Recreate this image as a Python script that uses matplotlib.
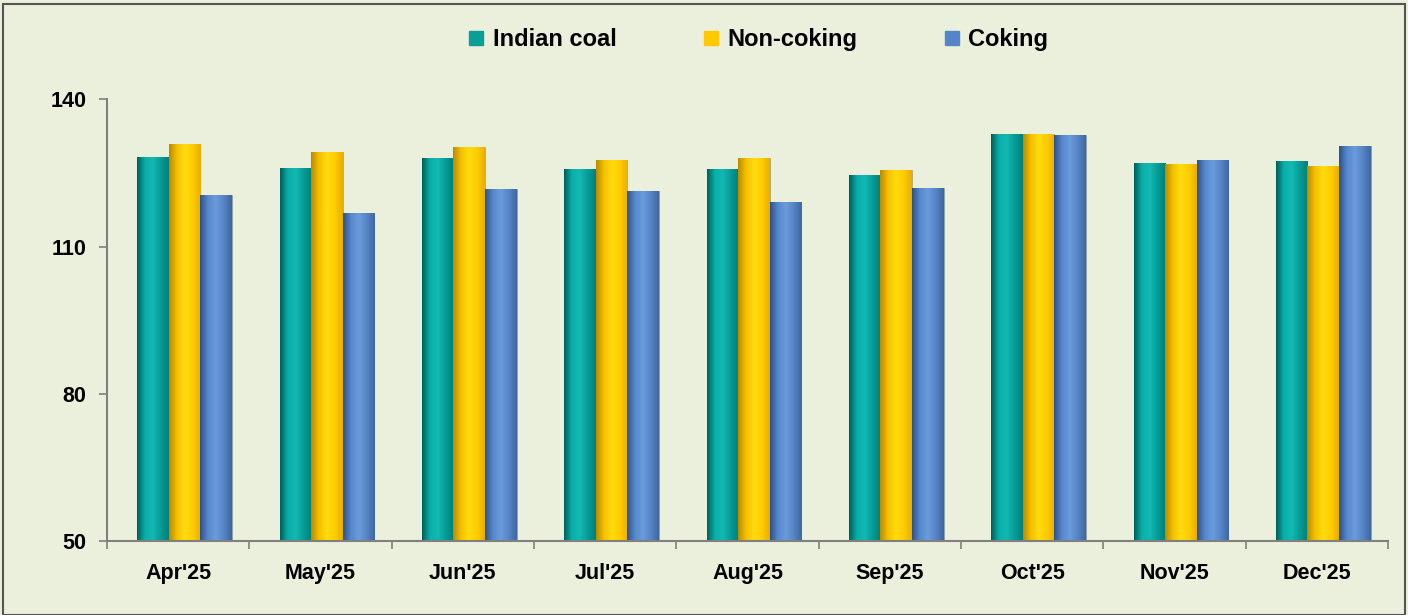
import numpy as np
import matplotlib
matplotlib.use("Agg")
import matplotlib.pyplot as plt
from matplotlib.colors import LinearSegmentedColormap
from matplotlib.lines import Line2D

# Monthly index values
months = ["Apr'25", "May'25", "Jun'25", "Jul'25", "Aug'25",
          "Sep'25", "Oct'25", "Nov'25", "Dec'25"]
indian_coal = [128.3, 126.0, 128.1, 125.9, 125.8, 124.6, 132.9, 127.1, 127.5]
non_coking = [131.0, 129.3, 130.3, 127.6, 128.1, 125.7, 132.9, 126.9, 126.4]
coking = [120.5, 116.8, 121.7, 121.4, 119.1, 121.9, 132.7, 127.7, 130.5]

series_names = ["Indian coal", "Non-coking", "Coking"]
series_values = [indian_coal, non_coking, coking]
base_colors = ["#0A9E99", "#FFC800", "#5585C8"]
# left edge -> highlight -> right edge of each cylinder-like bar
shade_stops = [
    ["#005E5A", "#0AAFA9", "#12B8B2", "#079A95", "#007F7A"],
    ["#B88A00", "#F5C000", "#FFDC10", "#FFCC00", "#E8AE00"],
    ["#2F5088", "#5688CC", "#6A9BDD", "#5684C5", "#3F66A0"],
]

plt.rcParams["font.family"] = ["Liberation Sans", "DejaVu Sans"]
plt.rcParams["font.weight"] = "bold"

bg = "#EBF0DC"
fig = plt.figure(figsize=(14.08, 6.15), dpi=100, facecolor=bg)
ax = fig.add_axes([0.076, 0.12, 0.9098, 0.7185])
ax.set_facecolor(bg)

x = np.arange(len(months))
width = 0.222
offset_shift = 0.045
grad = np.linspace(0, 1, 256).reshape(1, -1)

for k, (vals, col, stops) in enumerate(zip(series_values, base_colors, shade_stops)):
    pos = x + (k - 1) * width + offset_shift
    bars = ax.bar(pos, np.array(vals) - 50, width=width, bottom=50, color=col,
                  edgecolor="#8A8F80", linewidth=0.4, zorder=2)
    cmap = LinearSegmentedColormap.from_list(f"shade{k}", stops)
    for b in bars:
        x0, y0 = b.get_x(), b.get_y()
        im = ax.imshow(grad, cmap=cmap, aspect="auto", zorder=2.5,
                       extent=[x0, x0 + b.get_width(), y0, y0 + b.get_height()],
                       interpolation="bilinear")
        im.set_clip_path(b)

ax.set_xlim(-0.5, len(months) - 0.5)
ax.set_ylim(50, 140)
ax.set_yticks([50, 80, 110, 140])
ax.set_xticks(x)
ax.set_xticklabels(months)
ax.set_xticks(np.arange(-0.5, len(months)), minor=True)
ax.tick_params(axis="x", which="major", length=0, pad=16, labelsize=15.5)
ax.tick_params(axis="x", which="minor", length=6, width=1.2, color="#808080", direction="out")
ax.tick_params(axis="y", length=6, width=1.2, color="#808080", pad=9, labelsize=15.5)

for s in ["top", "right"]:
    ax.spines[s].set_visible(False)
for s in ["left", "bottom"]:
    ax.spines[s].set_color("#808080")
    ax.spines[s].set_linewidth(1.5)

handles = [Line2D([], [], marker="s", linestyle="none", markersize=10,
                  markerfacecolor=c, markeredgecolor=c) for c in base_colors]
fig.legend(handles, series_names, loc="center", bbox_to_anchor=(0.538, 0.935),
           ncol=3, frameon=False, fontsize=17, handletextpad=0.3,
           columnspacing=3.6, handlelength=0.8)

# outer frame
fig.patches.append(plt.Rectangle((0.002, 0.0), 0.996, 0.994, transform=fig.transFigure,
                                 fill=False, edgecolor="#555555", linewidth=1.5))

fig.savefig("out.png", dpi=100, facecolor=bg)
